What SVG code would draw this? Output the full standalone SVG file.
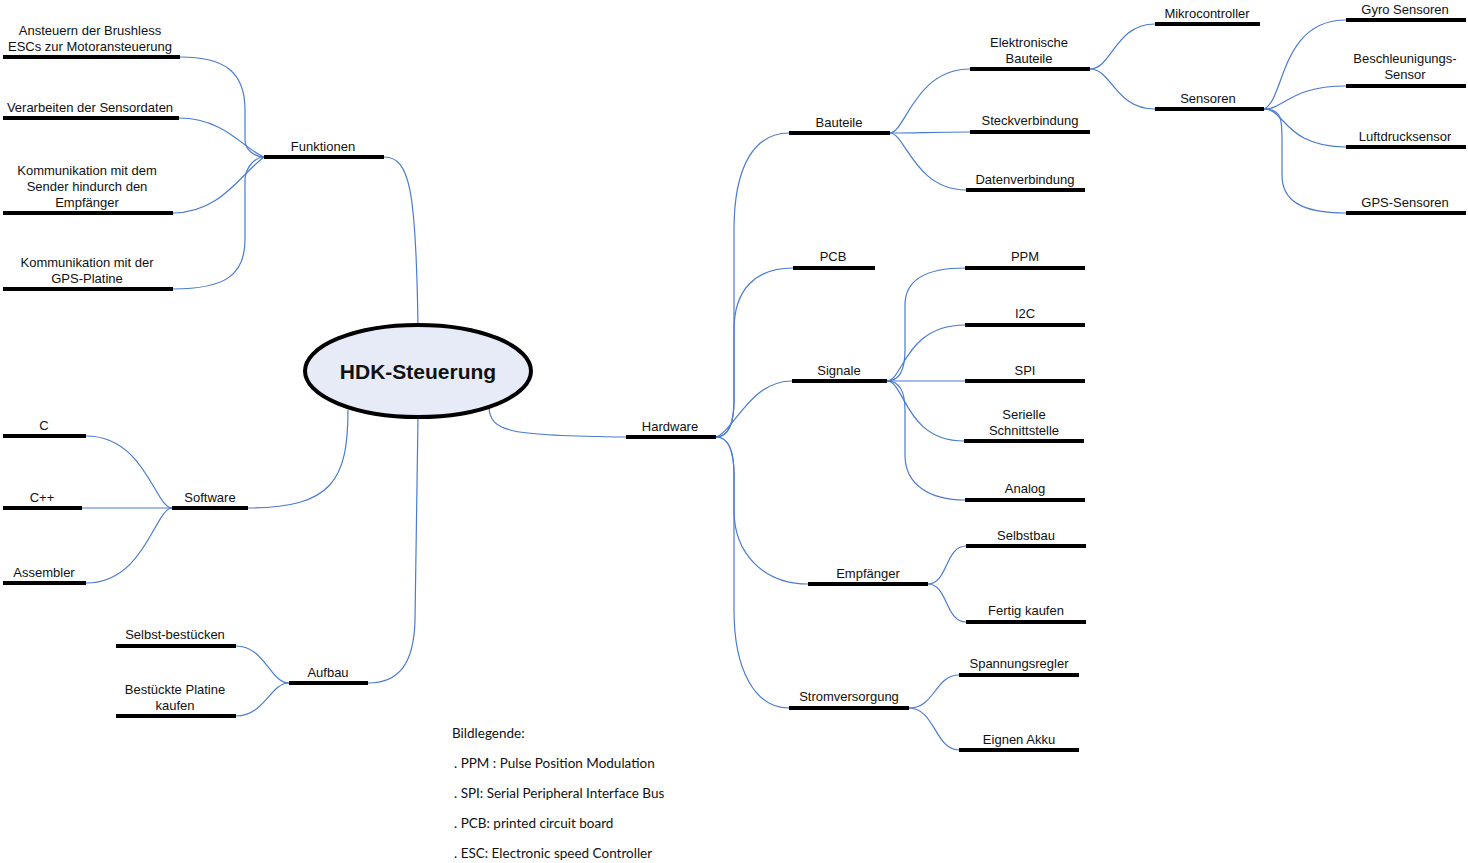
<svg xmlns="http://www.w3.org/2000/svg" width="1468" height="863" viewBox="0 0 1468 863">
<style>
.bar{stroke:#000;stroke-width:4;fill:none}
.c{stroke:#4a7bd0;stroke-width:1.2;fill:none}
text{font-family:"Liberation Sans",Arial,sans-serif;font-size:13px;fill:#111;text-anchor:middle}
.leg{font-family:Lato,"Open Sans",sans-serif;font-size:13.5px;text-anchor:start}
</style>
<rect width="1468" height="863" fill="#fff"/>
<g id="connectors">
<path class="c" d="M384,157 C410,157 416,190 418,326"/>
<path class="c" d="M180,57 C225,57 245,72 245,110 L245,140 C245,150 255,157 264,157"/>
<path class="c" d="M179,118 C225,118 245,150 264,157"/>
<path class="c" d="M173,213 C220,213 240,175 264,157"/>
<path class="c" d="M173,289 C225,289 245,275 245,240 L245,180 C245,168 255,157 264,157"/>
<path class="c" d="M248,508 C332,508 348,480 348,410"/>
<path class="c" d="M86,436 C145,436 155,508 172,508"/>
<path class="c" d="M82,508 L172,508"/>
<path class="c" d="M86,583 C145,583 155,508 172,508"/>
<path class="c" d="M368,683 C398,683 414,665 415,620 L418,417"/>
<path class="c" d="M236,646 C265,646 270,683 289,683"/>
<path class="c" d="M236,716 C265,716 270,683 289,683"/>
<path class="c" d="M489,407 C490,432 510,436 626,437"/>
<path class="c" d="M716,437 C728,437 734,425 734,400 L734,230 C734,165 755,133 789,133"/>
<path class="c" d="M716,437 C728,437 734,425 734,400 L734,330 C734,290 755,268 793,268"/>
<path class="c" d="M716,437 C735,430 750,381 792,381"/>
<path class="c" d="M716,437 C728,437 734,450 734,475 L734,510 C734,555 765,584 808,584"/>
<path class="c" d="M716,437 C728,437 734,450 734,475 L734,610 C734,670 755,708 789,708"/>
<path class="c" d="M890,133 C905,133 915,69 970,69"/>
<path class="c" d="M890,133 C920,133 930,132 970,132"/>
<path class="c" d="M890,133 C905,133 915,190 966,190"/>
<path class="c" d="M1090,69 C1112,69 1115,24 1155,24"/>
<path class="c" d="M1090,69 C1112,69 1115,109 1155,109"/>
<path class="c" d="M1264,109 C1285,100 1280,20 1346,20"/>
<path class="c" d="M1264,109 C1285,109 1290,86 1346,86"/>
<path class="c" d="M1264,109 C1285,109 1285,147 1346,147"/>
<path class="c" d="M1264,109 C1282,109 1282,120 1282,140 L1282,175 C1282,200 1300,213 1346,213"/>
<path class="c" d="M887,381 C900,381 905,370 905,350 L905,305 C905,280 925,268 965,268"/>
<path class="c" d="M887,381 C903,381 905,325 965,325"/>
<path class="c" d="M887,381 L965,381"/>
<path class="c" d="M887,381 C905,381 905,441 964,441"/>
<path class="c" d="M887,381 C900,381 905,392 905,410 L905,455 C905,485 930,500 965,500"/>
<path class="c" d="M928,584 C948,584 945,546 966,546"/>
<path class="c" d="M928,584 C948,584 945,622 966,622"/>
<path class="c" d="M909,708 C935,708 935,675 959,675"/>
<path class="c" d="M909,708 C935,708 935,750 959,750"/>
</g>
<g id="root">
<ellipse cx="418" cy="371" rx="113" ry="46" fill="#e6ebf7" stroke="#000" stroke-width="4"/>
<text x="418" y="379" style="font-size:21px;font-weight:bold">HDK-Steuerung</text>
</g>
<g id="funktionen"><line class="bar" x1="264" y1="157" x2="384" y2="157"/><text x="323" y="151">Funktionen</text></g>
<g id="ansteuern"><line class="bar" x1="3" y1="57" x2="180" y2="57"/><text x="90" y="35">Ansteuern der Brushless</text><text x="90" y="51">ESCs zur Motoransteuerung</text></g>
<g id="verarbeiten"><line class="bar" x1="3" y1="118" x2="179" y2="118"/><text x="90" y="112">Verarbeiten der Sensordaten</text></g>
<g id="kommsender"><line class="bar" x1="3" y1="213" x2="173" y2="213"/><text x="87" y="175">Kommunikation mit dem</text><text x="87" y="191">Sender hindurch den</text><text x="87" y="207">Empfänger</text></g>
<g id="kommgps"><line class="bar" x1="3" y1="289" x2="173" y2="289"/><text x="87" y="267">Kommunikation mit der</text><text x="87" y="283">GPS-Platine</text></g>
<g id="software"><line class="bar" x1="172" y1="508" x2="248" y2="508"/><text x="210" y="502">Software</text></g>
<g id="c"><line class="bar" x1="3" y1="436" x2="86" y2="436"/><text x="44" y="430">C</text></g>
<g id="cpp"><line class="bar" x1="3" y1="508" x2="82" y2="508"/><text x="42" y="502">C++</text></g>
<g id="assembler"><line class="bar" x1="3" y1="583" x2="86" y2="583"/><text x="44" y="577">Assembler</text></g>
<g id="aufbau"><line class="bar" x1="289" y1="683" x2="368" y2="683"/><text x="328" y="677">Aufbau</text></g>
<g id="selbstbest"><line class="bar" x1="116" y1="646" x2="236" y2="646"/><text x="175" y="639">Selbst-bestücken</text></g>
<g id="bestplatine"><line class="bar" x1="116" y1="716" x2="236" y2="716"/><text x="175" y="694">Bestückte Platine</text><text x="175" y="710">kaufen</text></g>
<g id="hardware"><line class="bar" x1="626" y1="437" x2="716" y2="437"/><text x="670" y="431">Hardware</text></g>
<g id="bauteile"><line class="bar" x1="789" y1="133" x2="890" y2="133"/><text x="839" y="127">Bauteile</text></g>
<g id="pcb"><line class="bar" x1="793" y1="268" x2="875" y2="268"/><text x="833" y="261">PCB</text></g>
<g id="signale"><line class="bar" x1="792" y1="381" x2="887" y2="381"/><text x="839" y="375">Signale</text></g>
<g id="empfaenger"><line class="bar" x1="808" y1="584" x2="928" y2="584"/><text x="868" y="578">Empfänger</text></g>
<g id="strom"><line class="bar" x1="789" y1="708" x2="909" y2="708"/><text x="849" y="701">Stromversorgung</text></g>
<g id="elektronische"><line class="bar" x1="970" y1="69" x2="1090" y2="69"/><text x="1029" y="47">Elektronische</text><text x="1029" y="63">Bauteile</text></g>
<g id="steck"><line class="bar" x1="970" y1="132" x2="1090" y2="132"/><text x="1030" y="125">Steckverbindung</text></g>
<g id="daten"><line class="bar" x1="966" y1="190" x2="1085" y2="190"/><text x="1025" y="184">Datenverbindung</text></g>
<g id="mikro"><line class="bar" x1="1155" y1="24" x2="1260" y2="24"/><text x="1207" y="18">Mikrocontroller</text></g>
<g id="sensoren"><line class="bar" x1="1155" y1="109" x2="1264" y2="109"/><text x="1208" y="103">Sensoren</text></g>
<g id="gyro"><line class="bar" x1="1346" y1="20" x2="1466" y2="20"/><text x="1405" y="14">Gyro Sensoren</text></g>
<g id="beschl"><line class="bar" x1="1346" y1="86" x2="1466" y2="86"/><text x="1405" y="63">Beschleunigungs-</text><text x="1405" y="79">Sensor</text></g>
<g id="luft"><line class="bar" x1="1346" y1="147" x2="1466" y2="147"/><text x="1405" y="141">Luftdrucksensor</text></g>
<g id="gps"><line class="bar" x1="1346" y1="213" x2="1466" y2="213"/><text x="1405" y="207">GPS-Sensoren</text></g>
<g id="ppm"><line class="bar" x1="965" y1="268" x2="1085" y2="268"/><text x="1025" y="261">PPM</text></g>
<g id="i2c"><line class="bar" x1="965" y1="325" x2="1085" y2="325"/><text x="1025" y="318">I2C</text></g>
<g id="spi"><line class="bar" x1="965" y1="381" x2="1085" y2="381"/><text x="1025" y="375">SPI</text></g>
<g id="seriell"><line class="bar" x1="964" y1="441" x2="1084" y2="441"/><text x="1024" y="419">Serielle</text><text x="1024" y="435">Schnittstelle</text></g>
<g id="analog"><line class="bar" x1="965" y1="500" x2="1085" y2="500"/><text x="1025" y="493">Analog</text></g>
<g id="selbstbau"><line class="bar" x1="966" y1="546" x2="1086" y2="546"/><text x="1026" y="540">Selbstbau</text></g>
<g id="fertig"><line class="bar" x1="966" y1="622" x2="1086" y2="622"/><text x="1026" y="615">Fertig kaufen</text></g>
<g id="spannung"><line class="bar" x1="959" y1="675" x2="1079" y2="675"/><text x="1019" y="668">Spannungsregler</text></g>
<g id="akku"><line class="bar" x1="959" y1="750" x2="1079" y2="750"/><text x="1019" y="744">Eignen Akku</text></g>
<g id="legend">
<text class="leg" x="452" y="738">Bildlegende:</text>
<text class="leg" x="454" y="768">. PPM : Pulse Position Modulation</text>
<text class="leg" x="454" y="798">. SPI: Serial Peripheral Interface Bus</text>
<text class="leg" x="454" y="828">. PCB: printed circuit board</text>
<text class="leg" x="454" y="858">. ESC: Electronic speed Controller</text>
</g>
</svg>
